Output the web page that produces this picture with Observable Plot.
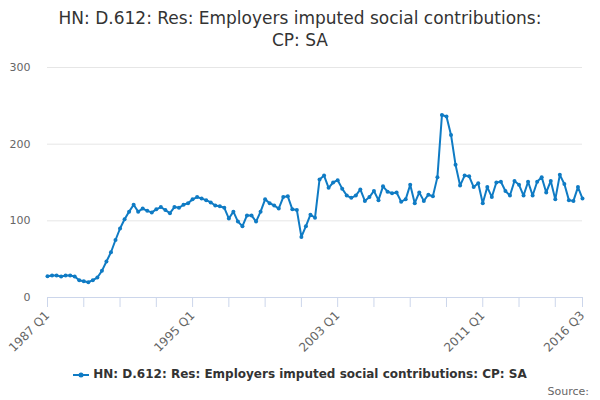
<!DOCTYPE html>
<html>
<head>
<meta charset="utf-8">
<script src="https://cdn.jsdelivr.net/npm/d3@7"></script>
<script src="https://cdn.jsdelivr.net/npm/@observablehq/plot@0.6"></script>
<style>
  html, body { margin: 0; padding: 0; background: #fff; width: 600px; height: 400px; overflow: hidden; }
  body { font-family: "DejaVu Sans", Verdana, sans-serif; }
  #title { height: 52px; text-align: center; font-size: 17px; color: #333; line-height: 22px; padding-top: 7px; box-sizing: border-box; }
  #legend { position: absolute; top: 367px; left: 0; width: 600px; text-align: center; font-size: 12px; font-weight: bold; color: #333; }
  #legend svg { vertical-align: middle; margin-right: 4px; }
  #source { position: absolute; top: 385px; right: 11px; font-size: 11px; color: #666; }
  .xax text { font-size: 12px; }
</style>
</head>
<body>
<div id="title">HN: D.612: Res: Employers imputed social contributions:<br>CP: SA</div>
<div id="chart"></div>
<div id="legend"><svg width="16" height="10"><line x1="0" y1="5" x2="16" y2="5" stroke="#0f7bc4" stroke-width="2"/><circle cx="8" cy="5" r="2.5" fill="#0f7bc4"/></svg>HN: D.612: Res: Employers imputed social contributions: CP: SA</div>
<div id="source">Source:</div>
<script>
const startYear = 1987;
const values = [
  27.8, 28.7, 28.7, 27.4, 28.7, 28.7, 27.4, 22.6,
  21.3, 20, 22.6, 26, 34.8, 47, 59, 75,
  90, 102, 112, 121, 112, 116, 113, 111,
  115, 118, 114, 110, 118, 117, 121, 123,
  128, 131, 129, 127, 124, 120, 119, 117,
  103, 112, 99, 93, 107, 107, 99, 112,
  128, 123, 120, 116, 131, 132, 115, 114,
  79, 93, 108, 104, 154, 159, 143, 150,
  153, 142, 133, 130, 133, 141, 126, 131,
  139, 127, 145, 138, 136, 137, 125, 128,
  147, 123, 137, 126, 134, 132, 157, 238,
  236, 212, 173, 146, 159, 158, 144, 149,
  123, 144, 131, 150, 151, 139, 133, 152,
  147, 133, 151, 133, 151, 157, 137, 152,
  128, 160, 148, 127, 126, 144, 129
];
const quarters = values.map((_, i) => `${startYear + Math.floor(i / 4)} Q${(i % 4) + 1}`);
const tickIndex = [0, 8, 16, 24, 32, 40, 48, 56, 64, 72, 80, 88, 96, 104, 112, 118];
const labelIndex = [0, 32, 64, 96, 118];
const yTicks = [0, 100, 200, 300];

const data = values.map((v, i) => ({i, v, q: quarters[i]}));
const blue = "#0f7bc4";

const chart = Plot.plot({
  width: 600,
  height: 305,
  marginTop: 15,
  marginBottom: 60,
  marginLeft: 47,
  marginRight: 18,
  style: {fontFamily: "DejaVu Sans, Verdana, sans-serif", fontSize: "11px", color: "#666", background: "#fff"},
  x: {type: "linear", domain: [0, values.length - 1]},
  y: {domain: [0, 300]},
  marks: [
    Plot.gridY(yTicks, {stroke: "#e6e6e6", strokeOpacity: 1}),
    Plot.axisY(yTicks, {tickSize: 0, tickPadding: 17, fill: "#666", label: null}),
    Plot.ruleY([0], {stroke: "#ccd6eb"}),
    Plot.axisX(tickIndex, {
      tickSize: 10, stroke: "#ccd6eb", strokeOpacity: 1,
      tickFormat: d => labelIndex.includes(d) ? quarters[d] : "",
      tickRotate: -45, tickPadding: 6, fill: "#666", label: null,
      className: "xax"
    }),
    Plot.line(data, {x: "i", y: "v", stroke: blue, strokeWidth: 2}),
    Plot.dot(data, {x: "i", y: "v", r: 2, fill: blue})
  ]
});
document.getElementById("chart").appendChild(chart);
</script>
</body>
</html>
